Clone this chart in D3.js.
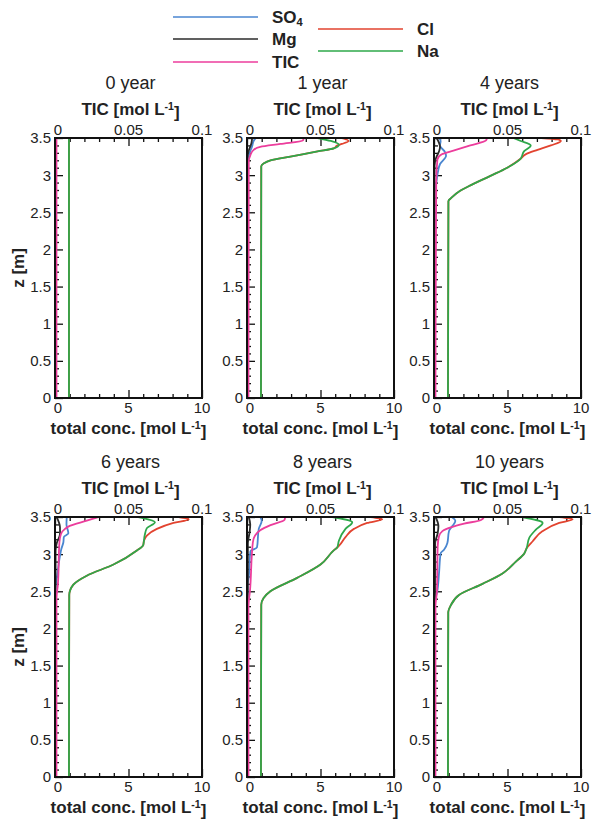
<!DOCTYPE html>
<html>
<head>
<meta charset="utf-8">
<script src="https://cdn.jsdelivr.net/npm/d3@7/dist/d3.min.js"></script>
<style>
  html, body { margin: 0; padding: 0; background: #fff; }
  svg { display: block; font-family: "Liberation Sans", Arial, sans-serif; }
</style>
</head>
<body>
<svg id="chart" width="592" height="819"></svg>
<script>
// Panel titles (simulation time)
const panelTitles = ["0 year", "1 year", "4 years", "6 years", "8 years", "10 years"];

// Species shown in the legend
const speciesNames = ["SO4", "Mg", "TIC", "Cl", "Na"];
const speciesColors = { SO4: "#4a86d0", Mg: "#2b2b2b", TIC: "#ec3d9c", Cl: "#e2432f", Na: "#2ea84a" };

// Profiles as [z (m), concentration] pairs, top of column first.
// SO4, Mg, Cl, Na: total conc. [mol L-1] (bottom axis); TIC: [mol L-1] (top axis)
const so4Profiles = [
  [[3.5, 0.03], [0, 0.03]],
  [[3.5, 0.6], [3.46, 0.45], [3.39, 0.35], [3.3, 0.18], [3.2, 0.05], [0, 0.03]],
  [[3.5, 0.36], [3.46, 0.45], [3.4, 0.41], [3.31, 0.75], [3.26, 0.82], [3.15, 0.41], [3.0, 0.23], [2.88, 0.14], [2.8, 0.05], [0, 0.03]],
  [[3.5, 0.8], [3.4, 0.78], [3.28, 0.91], [3.23, 0.6], [3.16, 0.57], [3.07, 0.43], [2.98, 0.34], [2.73, 0.16], [2.55, 0.04], [0, 0.03]],
  [[3.5, 0.91], [3.45, 1.0], [3.34, 0.8], [3.09, 0.68], [3.04, 0.23], [2.68, 0.11], [2.59, 0.04], [0, 0.03]],
  [[3.5, 1.2], [3.45, 1.45], [3.31, 1.02], [3.15, 0.91], [3.06, 0.68], [3.01, 0.45], [2.74, 0.34], [2.51, 0.23], [2.35, 0.05], [0, 0.03]]
];
const mgProfiles = [
  [[3.5, 0.03], [0, 0.03]],
  [[3.5, 0.35], [3.43, 0.3], [3.33, 0.12], [3.25, 0.04], [0, 0.03]],
  [[3.5, 0.18], [3.38, 0.41], [3.33, 0.36], [3.23, 0.14], [3.13, 0.04], [0, 0.03]],
  [[3.5, 0.11], [3.36, 0.34], [3.27, 0.34], [3.15, 0.12], [3.05, 0.04], [0, 0.03]],
  [[3.5, 0.12], [3.4, 0.22], [3.3, 0.18], [3.15, 0.06], [0, 0.03]],
  [[3.5, 0.11], [3.38, 0.3], [3.28, 0.25], [3.15, 0.08], [0, 0.03]]
];
const ticProfiles = [
  [[3.5, 0.001], [0, 0.001]],
  [[3.5, 0.0386], [3.465, 0.038], [3.42, 0.0227], [3.38, 0.009], [3.34, 0.0045], [3.27, 0.0023], [3.18, 0.0012], [0, 0.001]],
  [[3.5, 0.036], [3.47, 0.0355], [3.4, 0.0247], [3.33, 0.0132], [3.28, 0.0053], [3.21, 0.0023], [2.9, 0.0015], [0, 0.001]],
  [[3.5, 0.0295], [3.45, 0.0216], [3.38, 0.010], [3.34, 0.0068], [3.27, 0.004], [3.16, 0.003], [2.6, 0.002], [2.4, 0.001], [0, 0.001]],
  [[3.5, 0.026], [3.46, 0.0255], [3.39, 0.016], [3.32, 0.009], [3.25, 0.0055], [3.16, 0.004], [2.5, 0.002], [2.3, 0.001], [0, 0.001]],
  [[3.5, 0.034], [3.46, 0.032], [3.41, 0.0205], [3.36, 0.0114], [3.31, 0.0057], [3.24, 0.0034], [3.1, 0.0025], [2.5, 0.002], [2.3, 0.001], [0, 0.001]]
];
const clProfiles = [
  [[3.5, 0.95], [0, 0.95]],
  [[3.5, 6.4], [3.46, 6.9], [3.42, 6.45], [3.4, 6.15], [3.36, 5.9], [3.32, 4.8], [3.25, 2.95], [3.2, 1.6], [3.16, 1.15], [3.12, 0.97], [0, 0.95]],
  [[3.5, 7.3], [3.48, 8.4], [3.46, 8.63], [3.4, 7.95], [3.34, 7.04], [3.28, 6.23], [3.22, 5.89], [3.1, 4.98], [2.99, 3.84], [2.85, 2.35], [2.79, 1.78], [2.7, 1.21], [2.65, 0.98], [0, 0.95]],
  [[3.5, 8.4], [3.47, 9.1], [3.42, 8.06], [3.34, 6.93], [3.25, 6.25], [3.18, 6.05], [3.12, 6.0], [3.05, 5.57], [2.86, 3.98], [2.71, 2.16], [2.59, 1.25], [2.45, 0.97], [0, 0.95]],
  [[3.5, 8.4], [3.47, 9.2], [3.42, 8.18], [3.34, 7.27], [3.23, 6.7], [3.11, 6.25], [3.09, 6.14], [3.05, 5.9], [2.86, 5.0], [2.68, 3.41], [2.5, 1.59], [2.41, 1.13], [2.32, 0.97], [0, 0.95]],
  [[3.5, 8.52], [3.47, 9.43], [3.42, 8.52], [3.31, 7.39], [3.17, 6.7], [3.08, 6.3], [3.01, 6.14], [2.9, 5.57], [2.74, 4.66], [2.6, 3.3], [2.45, 1.7], [2.31, 1.14], [2.22, 0.97], [0, 0.95]]
];
const naProfiles = [
  [[3.5, 0.95], [0, 0.95]],
  [[3.5, 4.8], [3.46, 5.7], [3.41, 6.25], [3.36, 5.9], [3.32, 4.8], [3.25, 2.95], [3.2, 1.6], [3.16, 1.15], [3.12, 0.97], [0, 0.95]],
  [[3.5, 5.43], [3.46, 5.9], [3.4, 6.58], [3.32, 6.12], [3.24, 5.95], [3.22, 5.89], [3.1, 4.98], [2.99, 3.84], [2.85, 2.35], [2.79, 1.78], [2.7, 1.21], [2.65, 0.98], [0, 0.95]],
  [[3.5, 5.66], [3.43, 6.8], [3.35, 6.25], [3.25, 6.1], [3.12, 6.0], [3.05, 5.57], [2.86, 3.98], [2.71, 2.16], [2.59, 1.25], [2.45, 0.97], [0, 0.95]],
  [[3.5, 5.8], [3.43, 7.16], [3.34, 6.7], [3.18, 6.25], [3.09, 6.14], [3.05, 5.9], [2.86, 5.0], [2.68, 3.41], [2.5, 1.59], [2.41, 1.13], [2.32, 0.97], [0, 0.95]],
  [[3.5, 6.0], [3.42, 7.39], [3.33, 6.93], [3.22, 6.48], [3.08, 6.3], [3.01, 6.14], [2.9, 5.57], [2.74, 4.66], [2.6, 3.3], [2.45, 1.7], [2.31, 1.14], [2.22, 0.97], [0, 0.95]]
];

// Axis ticks
const depthMajor = [0, 0.5, 1, 1.5, 2, 2.5, 3, 3.5];
const depthLabels = ["0", "0.5", "1", "1.5", "2", "2.5", "3", "3.5"];
const concMajor = [0, 5, 10];
const ticMajor = [0, 0.05, 0.1];
const ticLabels = ["0", "0.05", "0.1"];

// Layout
const colX = [55, 247, 434];
const rowY = [138, 517];
const plotW = 147;
const plotH = [260, 260];

const svg = d3.select("#chart");

// Unit label with superscript: "[mol L-1]"
function unitLabel(sel, prefix) {
  sel.append("tspan").text(prefix + "[mol L");
  sel.append("tspan").attr("dy", "-0.45em").attr("font-size", "0.62em").text("-1");
  sel.append("tspan").attr("dy", "0.45em").text("]");
}

panelTitles.forEach((title, i) => {
  const col = i % 3, row = Math.floor(i / 3);
  const x0 = colX[col], y0 = rowY[row], h = plotH[row];
  const g = svg.append("g").attr("transform", `translate(${x0},${y0})`);

  const z = d3.scaleLinear().domain([0, 3.5]).range([h, 0]);
  const xc = d3.scaleLinear().domain([0, 10]).range([0, plotW]);
  const xt = d3.scaleLinear().domain([0, 0.1]).range([0, plotW]);

  const clipId = "clip" + i;
  g.append("clipPath").attr("id", clipId)
    .append("rect").attr("x", 0).attr("y", 0).attr("width", plotW).attr("height", h);

  // Inward ticks: bottom (total conc.), top (TIC), left (depth)
  const bottom = g.append("g").attr("transform", `translate(0,${h})`)
    .call(d3.axisTop(xc).tickValues(d3.range(0, 10.01, 1)).tickSize(4).tickFormat(""));
  bottom.selectAll(".tick line").filter(d => concMajor.includes(d)).attr("y2", -8);
  const top = g.append("g")
    .call(d3.axisBottom(xt).tickValues(d3.range(0, 0.1001, 0.01)).tickSize(4).tickFormat(""));
  top.selectAll(".tick line").filter(d => ticMajor.some(v => Math.abs(v - d) < 1e-9)).attr("y2", 8);
  const left = g.append("g")
    .call(d3.axisRight(z).tickValues(d3.range(0, 3.501, 0.1)).tickSize(4).tickFormat(""));
  left.selectAll(".tick line").filter(d => depthMajor.some(v => Math.abs(v - d) < 1e-9)).attr("x2", 8);
  [bottom, top, left].forEach(a => {
    a.select(".domain").remove();
    a.selectAll(".tick line").attr("stroke", "#111").attr("stroke-width", 1.3);
  });

  // Profiles
  const lineC = d3.line().x(d => xc(d[1])).y(d => z(d[0])).curve(d3.curveMonotoneY);
  const lineT = d3.line().x(d => xt(d[1])).y(d => z(d[0])).curve(d3.curveMonotoneY);
  const lines = g.append("g").attr("clip-path", `url(#${clipId})`).attr("fill", "none").attr("stroke-width", 1.8);
  lines.append("path").attr("d", lineC(clProfiles[i])).attr("stroke", speciesColors.Cl);
  lines.append("path").attr("d", lineC(naProfiles[i])).attr("stroke", speciesColors.Na);
  lines.append("path").attr("d", lineC(so4Profiles[i])).attr("stroke", speciesColors.SO4);
  lines.append("path").attr("d", lineC(mgProfiles[i])).attr("stroke", speciesColors.Mg);
  lines.append("path").attr("d", lineT(ticProfiles[i])).attr("stroke", speciesColors.TIC);

  // Frame
  g.append("rect").attr("x", 0).attr("y", 0).attr("width", plotW).attr("height", h)
    .attr("fill", "none").attr("stroke", "#111").attr("stroke-width", 2);

  // Depth tick labels
  depthMajor.forEach((v, k) => {
    g.append("text").attr("x", -4).attr("y", z(v)).attr("dy", "0.36em")
      .attr("text-anchor", "end").attr("font-size", 15).attr("fill", "#222").text(depthLabels[k]);
  });
  // Total conc. tick labels
  concMajor.forEach(v => {
    g.append("text").attr("x", xc(v) + (v === 0 ? 3 : 0)).attr("y", h + 15)
      .attr("text-anchor", "middle").attr("font-size", 15).attr("fill", "#222").text(v);
  });
  // TIC tick labels
  ticMajor.forEach((v, k) => {
    g.append("text").attr("x", xt(v) + (v === 0 ? 3 : 0)).attr("y", -3)
      .attr("text-anchor", "middle").attr("font-size", 15).attr("fill", "#222").text(ticLabels[k]);
  });

  // Titles
  g.append("text").attr("x", plotW / 2 + 2).attr("y", -49).attr("text-anchor", "middle")
    .attr("font-size", 18).attr("fill", "#222").text(title);
  unitLabel(g.append("text").attr("x", plotW / 2 + 2).attr("y", -23).attr("text-anchor", "middle")
    .attr("font-size", 17).attr("font-weight", "bold").attr("fill", "#222"), "TIC ");
  unitLabel(g.append("text").attr("x", plotW / 2).attr("y", h + 36).attr("text-anchor", "middle")
    .attr("font-size", 17).attr("font-weight", "bold").attr("fill", "#222"), "total conc. ");

  if (col === 0) {
    g.append("text").attr("transform", `translate(-31,${h / 2}) rotate(-90)`)
      .attr("text-anchor", "middle").attr("font-size", 17).attr("font-weight", "bold")
      .attr("fill", "#222").text("z [m]");
  }
});

// Legend
const legendItems = [
  { name: "SO4", x: 173, y: 17 },
  { name: "Mg", x: 173, y: 39 },
  { name: "TIC", x: 173, y: 62 },
  { name: "Cl", x: 318, y: 29 },
  { name: "Na", x: 318, y: 51 }
];
const legend = svg.append("g");
legendItems.forEach(it => {
  legend.append("line").attr("x1", it.x).attr("x2", it.x + 85).attr("y1", it.y).attr("y2", it.y)
    .attr("stroke", speciesColors[it.name]).attr("stroke-width", 1.6);
  const t = legend.append("text").attr("x", it.x + 99).attr("y", it.y).attr("dy", "0.36em")
    .attr("font-size", 17).attr("font-weight", "bold").attr("fill", "#222");
  if (it.name === "SO4") {
    t.append("tspan").text("SO");
    t.append("tspan").attr("dy", "0.3em").attr("font-size", "0.65em").text("4");
  } else {
    t.text(it.name);
  }
});
</script>
</body>
</html>
